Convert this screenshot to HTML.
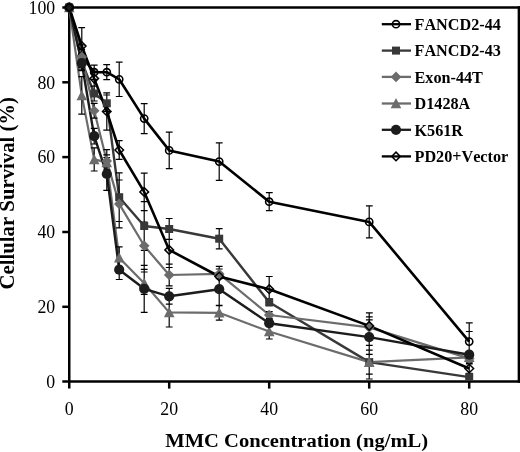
<!DOCTYPE html>
<html><head><meta charset="utf-8"><title>MMC survival</title>
<style>html,body{margin:0;padding:0;background:#fff}svg{display:block}text{font-kerning:none;font-variant-ligatures:none}</style></head>
<body>
<svg width="520" height="452" viewBox="0 0 520 452">
<rect width="520" height="452" fill="#fff"/>
<g stroke="#000" stroke-width="2.5" fill="none" stroke-linecap="butt">
<path d="M69.25 7.5 H520"/>
<path d="M518.9 6.3 V382.8"/>
<path d="M62.3 381.6 H520"/>
<path d="M69.25 6.3 V388.6"/>
<path d="M62.3 306.8 H69.25"/>
<path d="M62.3 232.0 H69.25"/>
<path d="M62.3 157.1 H69.25"/>
<path d="M62.3 82.3 H69.25"/>
<path d="M62.3 7.5 H69.25"/>
<path d="M169.2 381.6 V388.6"/>
<path d="M269.2 381.6 V388.6"/>
<path d="M369.2 381.6 V388.6"/>
<path d="M469.2 381.6 V388.6"/>
</g>
<polyline points="69.2,7.5 81.8,56.1 94.2,72.2 106.8,72.2 119.2,79.3 144.2,118.6 169.2,150.4 219.2,161.6 269.2,201.7 369.2,221.9 469.2,341.6" fill="none" stroke="#000" stroke-width="2.6" stroke-linejoin="round"/>
<polyline points="69.2,7.5 81.8,61.7 94.2,93.5 106.8,103.3 119.2,197.2 144.2,226.0 169.2,229.0 219.2,238.7 269.2,302.3 369.2,362.1 469.2,377.1" fill="none" stroke="#383838" stroke-width="2.4" stroke-linejoin="round"/>
<polyline points="69.2,7.5 81.8,56.9 94.2,110.8 106.8,160.9 119.2,203.9 144.2,245.8 169.2,275.0 219.2,273.9 269.2,315.0 369.2,327.4 469.2,358.4" fill="none" stroke="#6c6c6c" stroke-width="2.2" stroke-linejoin="round"/>
<polyline points="69.2,7.5 81.8,95.4 94.2,159.4 106.8,162.4 119.2,257.8 144.2,283.2 169.2,312.4 219.2,312.8 269.2,331.5 369.2,362.1 469.2,357.3" fill="none" stroke="#6c6c6c" stroke-width="2.2" stroke-linejoin="round"/>
<polyline points="69.2,7.5 81.8,63.2 94.2,136.2 106.8,174.0 119.2,269.7 144.2,288.8 169.2,296.3 219.2,289.2 269.2,323.2 369.2,337.1 469.2,354.7" fill="none" stroke="#1c1c1c" stroke-width="2.4" stroke-linejoin="round"/>
<polyline points="69.2,7.5 81.8,46.0 94.2,78.6 106.8,111.5 119.2,150.0 144.2,191.9 169.2,249.9 219.2,276.5 269.2,289.2 369.2,325.9 469.2,368.5" fill="none" stroke="#000" stroke-width="2.6" stroke-linejoin="round"/>
<path d="M81.8 44.9V67.4M78.3 44.9h6.8M78.3 67.4h6.8M94.2 65.1V79.3M90.8 65.1h6.8M90.8 79.3h6.8M106.8 64.7V79.7M103.3 64.7h6.8M103.3 79.7h6.8M119.2 62.1V96.5M115.8 62.1h6.8M115.8 96.5h6.8M144.2 103.6V133.6M140.8 103.6h6.8M140.8 133.6h6.8M169.2 132.1V168.7M165.8 132.1h6.8M165.8 168.7h6.8M219.2 142.9V180.3M215.8 142.9h6.8M215.8 180.3h6.8M269.2 192.7V210.6M265.9 192.7h6.8M265.9 210.6h6.8M369.2 205.8V237.9M365.9 205.8h6.8M365.9 237.9h6.8M469.2 322.9V360.3M465.9 322.9h6.8M465.9 360.3h6.8M81.8 54.3V69.2M78.3 54.3h6.8M78.3 69.2h6.8M94.2 86.1V101.0M90.8 86.1h6.8M90.8 101.0h6.8M106.8 95.0V111.5M103.3 95.0h6.8M103.3 111.5h6.8M119.2 172.9V221.5M115.8 172.9h6.8M115.8 221.5h6.8M144.2 201.7V250.3M140.8 201.7h6.8M140.8 250.3h6.8M169.2 218.5V239.4M165.8 218.5h6.8M165.8 239.4h6.8M219.2 228.6V248.8M215.8 228.6h6.8M215.8 248.8h6.8M269.2 298.9V305.7M265.9 298.9h6.8M265.9 305.7h6.8M369.2 350.2V374.1M365.9 350.2h6.8M365.9 374.1h6.8M469.2 373.4V380.9M465.9 373.4h6.8M465.9 380.9h6.8M81.8 49.4V64.4M78.3 49.4h6.8M78.3 64.4h6.8M94.2 103.3V118.2M90.8 103.3h6.8M90.8 118.2h6.8M106.8 149.7V172.1M103.3 149.7h6.8M103.3 172.1h6.8M119.2 180.0V227.8M115.8 180.0h6.8M115.8 227.8h6.8M144.2 222.2V269.4M140.8 222.2h6.8M140.8 269.4h6.8M169.2 264.1V285.8M165.8 264.1h6.8M165.8 285.8h6.8M219.2 269.0V278.7M215.8 269.0h6.8M215.8 278.7h6.8M269.2 311.6V318.4M265.9 311.6h6.8M265.9 318.4h6.8M369.2 316.9V337.8M365.9 316.9h6.8M365.9 337.8h6.8M469.2 352.8V364.0M465.9 352.8h6.8M465.9 364.0h6.8M81.8 76.7V114.1M78.3 76.7h6.8M78.3 114.1h6.8M94.2 147.8V171.0M90.8 147.8h6.8M90.8 171.0h6.8M106.8 154.9V169.9M103.3 154.9h6.8M103.3 169.9h6.8M119.2 246.9V268.6M115.8 246.9h6.8M115.8 268.6h6.8M144.2 272.0V294.4M140.8 272.0h6.8M140.8 294.4h6.8M169.2 297.8V327.0M165.8 297.8h6.8M165.8 327.0h6.8M219.2 305.3V320.2M215.8 305.3h6.8M215.8 320.2h6.8M269.2 324.0V339.0M265.9 324.0h6.8M265.9 339.0h6.8M369.2 345.3V379.0M365.9 345.3h6.8M365.9 379.0h6.8M469.2 351.7V362.9M465.9 351.7h6.8M465.9 362.9h6.8M81.8 55.8V70.7M78.3 55.8h6.8M78.3 70.7h6.8M94.2 128.3V144.0M90.8 128.3h6.8M90.8 144.0h6.8M106.8 157.5V190.4M103.3 157.5h6.8M103.3 190.4h6.8M119.2 260.0V279.5M115.8 260.0h6.8M115.8 279.5h6.8M144.2 265.3V312.4M140.8 265.3h6.8M140.8 312.4h6.8M169.2 288.4V304.2M165.8 288.4h6.8M165.8 304.2h6.8M219.2 272.7V305.7M215.8 272.7h6.8M215.8 305.7h6.8M269.2 319.9V326.6M265.9 319.9h6.8M265.9 326.6h6.8M369.2 319.9V354.3M365.9 319.9h6.8M365.9 354.3h6.8M469.2 331.5V377.9M465.9 331.5h6.8M465.9 377.9h6.8M81.8 27.7V64.4M78.3 27.7h6.8M78.3 64.4h6.8M94.2 71.1V86.1M90.8 71.1h6.8M90.8 86.1h6.8M106.8 92.8V130.2M103.3 92.8h6.8M103.3 130.2h6.8M119.2 140.7V159.4M115.8 140.7h6.8M115.8 159.4h6.8M144.2 173.2V210.6M140.8 173.2h6.8M140.8 210.6h6.8M169.2 232.3V267.5M165.8 232.3h6.8M165.8 267.5h6.8M219.2 266.4V286.6M215.8 266.4h6.8M215.8 286.6h6.8M269.2 276.5V301.9M265.9 276.5h6.8M265.9 301.9h6.8M369.2 312.8V339.0M365.9 312.8h6.8M365.9 339.0h6.8M469.2 362.9V374.1M465.9 362.9h6.8M465.9 374.1h6.8" fill="none" stroke="#000" stroke-width="1.2"/>
<circle cx="69.2" cy="7.5" r="3.6" fill="none" stroke="#000" stroke-width="1.6"/>
<circle cx="81.8" cy="56.1" r="3.6" fill="none" stroke="#000" stroke-width="1.6"/>
<circle cx="94.2" cy="72.2" r="3.6" fill="none" stroke="#000" stroke-width="1.6"/>
<circle cx="106.8" cy="72.2" r="3.6" fill="none" stroke="#000" stroke-width="1.6"/>
<circle cx="119.2" cy="79.3" r="3.6" fill="none" stroke="#000" stroke-width="1.6"/>
<circle cx="144.2" cy="118.6" r="3.6" fill="none" stroke="#000" stroke-width="1.6"/>
<circle cx="169.2" cy="150.4" r="3.6" fill="none" stroke="#000" stroke-width="1.6"/>
<circle cx="219.2" cy="161.6" r="3.6" fill="none" stroke="#000" stroke-width="1.6"/>
<circle cx="269.2" cy="201.7" r="3.6" fill="none" stroke="#000" stroke-width="1.6"/>
<circle cx="369.2" cy="221.9" r="3.6" fill="none" stroke="#000" stroke-width="1.6"/>
<circle cx="469.2" cy="341.6" r="3.6" fill="none" stroke="#000" stroke-width="1.6"/>
<rect x="65.2" y="3.5" width="8" height="8" fill="#383838"/>
<rect x="77.8" y="57.7" width="8" height="8" fill="#383838"/>
<rect x="90.2" y="89.5" width="8" height="8" fill="#383838"/>
<rect x="102.8" y="99.3" width="8" height="8" fill="#383838"/>
<rect x="115.2" y="193.2" width="8" height="8" fill="#383838"/>
<rect x="140.2" y="222.0" width="8" height="8" fill="#383838"/>
<rect x="165.2" y="225.0" width="8" height="8" fill="#383838"/>
<rect x="215.2" y="234.7" width="8" height="8" fill="#383838"/>
<rect x="265.2" y="298.3" width="8" height="8" fill="#383838"/>
<rect x="365.2" y="358.1" width="8" height="8" fill="#383838"/>
<rect x="465.2" y="373.1" width="8" height="8" fill="#383838"/>
<polygon points="69.2,2.2 74.5,7.5 69.2,12.8 64.0,7.5" fill="#6c6c6c"/>
<polygon points="81.8,51.6 87.0,56.9 81.8,62.2 76.5,56.9" fill="#6c6c6c"/>
<polygon points="94.2,105.5 99.5,110.8 94.2,116.1 89.0,110.8" fill="#6c6c6c"/>
<polygon points="106.8,155.6 112.0,160.9 106.8,166.2 101.5,160.9" fill="#6c6c6c"/>
<polygon points="119.2,198.6 124.5,203.9 119.2,209.2 114.0,203.9" fill="#6c6c6c"/>
<polygon points="144.2,240.5 149.6,245.8 144.2,251.1 138.9,245.8" fill="#6c6c6c"/>
<polygon points="169.2,269.7 174.6,275.0 169.2,280.3 163.9,275.0" fill="#6c6c6c"/>
<polygon points="219.2,268.6 224.6,273.9 219.2,279.2 213.9,273.9" fill="#6c6c6c"/>
<polygon points="269.2,309.7 274.6,315.0 269.2,320.3 263.9,315.0" fill="#6c6c6c"/>
<polygon points="369.2,322.1 374.6,327.4 369.2,332.7 363.9,327.4" fill="#6c6c6c"/>
<polygon points="469.2,353.1 474.6,358.4 469.2,363.7 463.9,358.4" fill="#6c6c6c"/>
<polygon points="69.2,2.0 74.5,12.3 64.0,12.3" fill="#6c6c6c"/>
<polygon points="81.8,89.9 87.0,100.2 76.5,100.2" fill="#6c6c6c"/>
<polygon points="94.2,153.9 99.5,164.2 89.0,164.2" fill="#6c6c6c"/>
<polygon points="106.8,156.9 112.0,167.2 101.5,167.2" fill="#6c6c6c"/>
<polygon points="119.2,252.3 124.5,262.6 114.0,262.6" fill="#6c6c6c"/>
<polygon points="144.2,277.7 149.6,288.0 138.9,288.0" fill="#6c6c6c"/>
<polygon points="169.2,306.9 174.6,317.2 163.9,317.2" fill="#6c6c6c"/>
<polygon points="219.2,307.3 224.6,317.6 213.9,317.6" fill="#6c6c6c"/>
<polygon points="269.2,326.0 274.6,336.3 263.9,336.3" fill="#6c6c6c"/>
<polygon points="369.2,356.6 374.6,366.9 363.9,366.9" fill="#6c6c6c"/>
<polygon points="469.2,351.8 474.6,362.1 463.9,362.1" fill="#6c6c6c"/>
<circle cx="69.2" cy="7.5" r="5.1" fill="#1c1c1c"/>
<circle cx="81.8" cy="63.2" r="5.1" fill="#1c1c1c"/>
<circle cx="94.2" cy="136.2" r="5.1" fill="#1c1c1c"/>
<circle cx="106.8" cy="174.0" r="5.1" fill="#1c1c1c"/>
<circle cx="119.2" cy="269.7" r="5.1" fill="#1c1c1c"/>
<circle cx="144.2" cy="288.8" r="5.1" fill="#1c1c1c"/>
<circle cx="169.2" cy="296.3" r="5.1" fill="#1c1c1c"/>
<circle cx="219.2" cy="289.2" r="5.1" fill="#1c1c1c"/>
<circle cx="269.2" cy="323.2" r="5.1" fill="#1c1c1c"/>
<circle cx="369.2" cy="337.1" r="5.1" fill="#1c1c1c"/>
<circle cx="469.2" cy="354.7" r="5.1" fill="#1c1c1c"/>
<polygon points="69.2,3.2 73.5,7.5 69.2,11.8 65.0,7.5" fill="none" stroke="#000" stroke-width="1.5"/>
<polygon points="81.8,41.7 86.0,46.0 81.8,50.3 77.5,46.0" fill="none" stroke="#000" stroke-width="1.5"/>
<polygon points="94.2,74.3 98.5,78.6 94.2,82.9 90.0,78.6" fill="none" stroke="#000" stroke-width="1.5"/>
<polygon points="106.8,107.2 111.0,111.5 106.8,115.8 102.5,111.5" fill="none" stroke="#000" stroke-width="1.5"/>
<polygon points="119.2,145.7 123.5,150.0 119.2,154.3 115.0,150.0" fill="none" stroke="#000" stroke-width="1.5"/>
<polygon points="144.2,187.6 148.6,191.9 144.2,196.2 139.9,191.9" fill="none" stroke="#000" stroke-width="1.5"/>
<polygon points="169.2,245.6 173.6,249.9 169.2,254.2 164.9,249.9" fill="none" stroke="#000" stroke-width="1.5"/>
<polygon points="219.2,272.2 223.6,276.5 219.2,280.8 214.9,276.5" fill="none" stroke="#000" stroke-width="1.5"/>
<polygon points="269.2,284.9 273.6,289.2 269.2,293.5 264.9,289.2" fill="none" stroke="#000" stroke-width="1.5"/>
<polygon points="369.2,321.6 373.6,325.9 369.2,330.2 364.9,325.9" fill="none" stroke="#000" stroke-width="1.5"/>
<polygon points="469.2,364.2 473.6,368.5 469.2,372.8 464.9,368.5" fill="none" stroke="#000" stroke-width="1.5"/>
<path d="M381.8 24.2H411" stroke="#000" stroke-width="2.3"/>
<circle cx="396.0" cy="24.2" r="3.6" fill="none" stroke="#000" stroke-width="1.6"/>
<text x="414.5" y="29.9" font-family="Liberation Serif, serif" font-weight="bold" font-size="16.2">FANCD2-44</text>
<path d="M381.8 50.6H411" stroke="#383838" stroke-width="2.3"/>
<rect x="392.0" y="46.6" width="8" height="8" fill="#383838"/>
<text x="414.5" y="56.3" font-family="Liberation Serif, serif" font-weight="bold" font-size="16.2">FANCD2-43</text>
<path d="M381.8 76.9H411" stroke="#6c6c6c" stroke-width="2.3"/>
<polygon points="396.0,71.6 401.3,76.9 396.0,82.2 390.7,76.9" fill="#6c6c6c"/>
<text x="414.5" y="82.6" font-family="Liberation Serif, serif" font-weight="bold" font-size="16.2">Exon-44T</text>
<path d="M381.8 103.5H411" stroke="#6c6c6c" stroke-width="2.3"/>
<polygon points="396.0,98.0 401.3,108.3 390.7,108.3" fill="#6c6c6c"/>
<text x="414.5" y="109.2" font-family="Liberation Serif, serif" font-weight="bold" font-size="16.2">D1428A</text>
<path d="M381.8 129.8H411" stroke="#1c1c1c" stroke-width="2.3"/>
<circle cx="396.0" cy="129.8" r="5.1" fill="#1c1c1c"/>
<text x="414.5" y="135.5" font-family="Liberation Serif, serif" font-weight="bold" font-size="16.2">K561R</text>
<path d="M381.8 156.4H411" stroke="#000" stroke-width="2.3"/>
<polygon points="396.0,152.1 400.3,156.4 396.0,160.7 391.7,156.4" fill="none" stroke="#000" stroke-width="1.5"/>
<text x="414.5" y="162.1" font-family="Liberation Serif, serif" font-weight="bold" font-size="16.2">PD20+Vector</text>
<text x="55.2" y="387.8" text-anchor="end" font-family="Liberation Serif, serif" font-size="17.8">0</text>
<text x="55.2" y="313.0" text-anchor="end" font-family="Liberation Serif, serif" font-size="17.8">20</text>
<text x="55.2" y="238.2" text-anchor="end" font-family="Liberation Serif, serif" font-size="17.8">40</text>
<text x="55.2" y="163.3" text-anchor="end" font-family="Liberation Serif, serif" font-size="17.8">60</text>
<text x="55.2" y="88.5" text-anchor="end" font-family="Liberation Serif, serif" font-size="17.8">80</text>
<text x="55.2" y="13.7" text-anchor="end" font-family="Liberation Serif, serif" font-size="17.8">100</text>
<text x="69.2" y="414.6" text-anchor="middle" font-family="Liberation Serif, serif" font-size="17.8">0</text>
<text x="169.2" y="414.6" text-anchor="middle" font-family="Liberation Serif, serif" font-size="17.8">20</text>
<text x="269.2" y="414.6" text-anchor="middle" font-family="Liberation Serif, serif" font-size="17.8">40</text>
<text x="369.2" y="414.6" text-anchor="middle" font-family="Liberation Serif, serif" font-size="17.8">60</text>
<text x="469.2" y="414.6" text-anchor="middle" font-family="Liberation Serif, serif" font-size="17.8">80</text>
<text transform="translate(296.7 447.3) scale(1.067 1)" text-anchor="middle" font-family="Liberation Serif, serif" font-weight="bold" font-size="19.3">MMC Concentration (ng/mL)</text>
<text transform="translate(14.0 193.2) rotate(-90) scale(1 1.04)" text-anchor="middle" font-family="Liberation Serif, serif" font-weight="bold" font-size="20.75">Cellular Survival (%)</text>
</svg>
</body></html>
